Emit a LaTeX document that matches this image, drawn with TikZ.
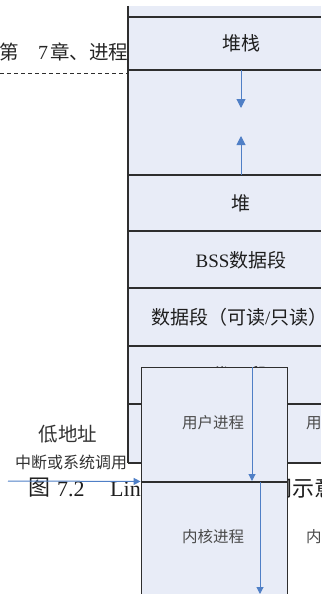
\documentclass[tikz,border=0pt]{standalone}
\usepackage{fontspec}
\setmainfont{Liberation Serif}
\newfontfamily\cjk{Noto Sans CJK SC}
\usetikzlibrary{arrows.meta}
\definecolor{cellfill}{HTML}{E8ECF7}
\definecolor{linec}{HTML}{2E2E2E}
\definecolor{arrowblue}{HTML}{4F7FC6}
\definecolor{txt}{HTML}{1E1E1E}
\definecolor{boxtxt}{HTML}{4A4A4A}
\tikzset{
  plain/.style={inner sep=0pt, text=txt},
  celltext/.style={plain, font=\fontsize{19}{19}\selectfont},
  cjktext/.style={plain, font=\cjk\fontsize{19}{19}\selectfont},
  boxtext/.style={inner sep=0pt, text=boxtxt, font=\cjk\fontsize{15.5}{15.5}\selectfont},
  seg/.style={draw=linec, line width=1.1pt},
  procbox/.style={draw=linec, fill=cellfill, line width=0.9pt, minimum width=146pt},
  bluebig/.style={draw=arrowblue, line width=1pt, -{Triangle[width=9pt,length=9pt]}},
  bluesmall/.style={draw=arrowblue, line width=1pt, -{Triangle[width=7pt,length=7pt]}},
}
\begin{document}
\begin{tikzpicture}[x=1pt,y=-1pt]
\useasboundingbox (0,0) rectangle (332,594);
\begin{scope}
\clip (0,0) rectangle (321,594);
% header
\node[cjktext, anchor=west, text=black!85, font=\cjk\fontsize{19.5}{19.5}\selectfont] (h1) at (-1,52) {第};
\node[celltext, anchor=west, text=black!85, font=\fontsize{20}{20}\selectfont] (h2) at (38,53) {7};
\node[cjktext, anchor=west, text=black!85, font=\cjk\fontsize{19.5}{19.5}\selectfont] (h3) at (50,52) {章、进程};
\coordinate (dl) at (0,73);
\coordinate (dr) at (128,73);
\draw[linec, line width=0.8pt, dash pattern=on 4pt off 3pt] (dl) -- (dr);
% left labels
\node[cjktext, font=\cjk\fontsize{19.5}{19.5}\selectfont, text=black!80] (low) at (68,434) {低地址};
\node[cjktext, font=\cjk\fontsize{16}{16}\selectfont, text=black!80] (irq) at (71,462) {中断或系统调用};
% caption
\node[cjktext, anchor=west, font=\cjk\fontsize{22}{22}\selectfont] (cap1) at (28,488) {图};
\node[celltext, anchor=west, font=\fontsize{22}{22}\selectfont] (cap2) at (57,489) {7.2};
\node[celltext, anchor=west, font=\fontsize{22}{22}\selectfont] (cap3) at (110,489) {Linux};
\node[cjktext, anchor=west, font=\cjk\fontsize{22}{22}\selectfont] (cap4) at (270,488) {间示意图};
% column
\fill[cellfill] (128,6) rectangle (321,463);
\draw[seg] (128,6) -- (128,463);
\foreach \yy in {17,70,175,231,288,346,404,463} {\draw[seg] (128,\yy) -- (321,\yy);}
\node[cjktext] (stack) at (241,43) {堆栈};
\coordinate (sa) at (241,70);
\coordinate (sb) at (241,108);
\coordinate (ha) at (241,175);
\coordinate (hb) at (241,136);
\draw[bluebig] (sa) -- (sb);
\draw[bluebig] (ha) -- (hb);
\node[cjktext] (heap) at (241,203) {堆};
\node[celltext] (bss) at (241,260) {BSS{\cjk 数据段}};
\node[celltext, anchor=west] (data) at (151,317) {{\cjk 数据段（可读}/{\cjk 只读）}};
\node[cjktext] (code) at (240,375) {代码段};
% duplicated labels on the right
\node[boxtext] (userdup) at (337,423) {用户进程};
\node[boxtext] (kerndup) at (337,537) {内核进程};
% process boxes
\node[procbox, minimum height=114pt] (user) at (214,424) {};
\node[procbox, minimum height=130pt] (kern) at (214,547) {};
\node[boxtext] (userlbl) at (213,423) {用户进程};
\node[boxtext] (kernlbl) at (213,537) {内核进程};
\coordinate (ua) at (252,367);
\coordinate (ub) at (252,481);
\coordinate (ka) at (260,482);
\coordinate (kb) at (260,594);
\coordinate (hs) at (8,481);
\draw[bluesmall] (ua) -- (ub);
\draw[bluesmall] (ka) -- (kb);
\draw[bluesmall] (hs) -- (user.south west);
\end{scope}
\end{tikzpicture}
\end{document}
